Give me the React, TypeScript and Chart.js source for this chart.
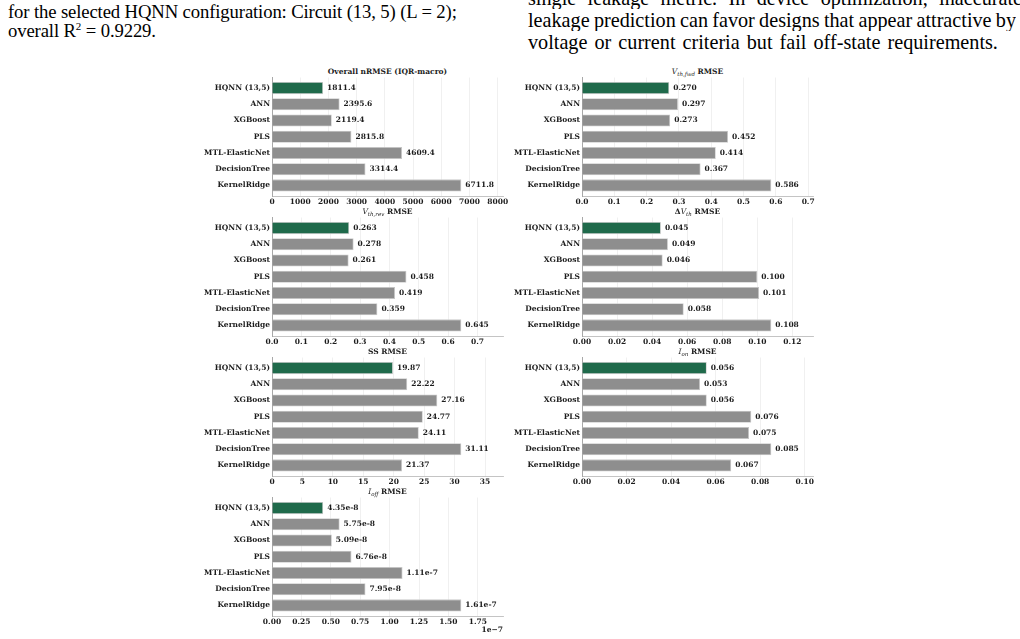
import React, { useEffect, useRef } from 'react';
import { Chart, registerables } from 'chart.js';

Chart.register(...registerables);

// Models compared in every panel (top to bottom)
const models = ['HQNN (13,5)', 'ANN', 'XGBoost', 'PLS', 'MTL-ElasticNet', 'DecisionTree', 'KernelRidge'];

// Per-metric errors, same model order
const overallNrmse = [1811.4, 2395.6, 2119.4, 2815.8, 4609.4, 3314.4, 6711.8];
const vthFwdRmse = [0.27, 0.297, 0.273, 0.452, 0.414, 0.367, 0.586];
const vthRevRmse = [0.263, 0.278, 0.261, 0.458, 0.419, 0.359, 0.645];
const dVthRmse = [0.045, 0.049, 0.046, 0.1, 0.101, 0.058, 0.108];
const ssRmse = [19.87, 22.22, 27.16, 24.77, 24.11, 31.11, 21.37];
const ionRmse = [0.056, 0.053, 0.056, 0.076, 0.075, 0.085, 0.067];
const ioffRmse = [4.35e-8, 5.75e-8, 5.09e-8, 6.76e-8, 1.11e-7, 7.95e-8, 1.61e-7];

// x-axis tick spacing per panel
const overallStep = 1000;
const vthFwdStep = 0.1;
const vthRevStep = 0.1;
const dVthStep = 0.02;
const ssStep = 5;
const ionStep = 0.02;
const ioffStep = 0.25e-7;

// x-axis upper limit relative to the largest bar
const HEADROOM = 1.22;

const GREEN = '#1f6a4b';
const GRAY = '#8e8e8e';
const EDGE = '#c8c8c8';
const INK = '#1c1c1c';
const FONT = '"DejaVu Serif"';
const FS = 7.5;

// plot geometry
const PLOT_W = 231;
const PLOT_H = 119;
const COL_X = [272, 582];
const ROW_Y = [77, 217, 357, 497];
const Y_AXIS_W = 90;
const X_AXIS_H = 14;
const PAD_T = 6;
const PAD_R = 22;
const PAD_B = 4;

type PanelDef = {
  title: React.ReactNode;
  values: number[];
  step: number;
  tick: (v: number) => string;
  label: (v: number) => string;
  col: number;
  row: number;
  offsetText?: string;
};

const fixed = (d: number) => (v: number) => v.toFixed(d);

const Sym = ({ pre, base, sub }: { pre?: string; base: string; sub: string }) => (
  <>
    {pre}
    <span style={{ fontStyle: 'italic', fontWeight: 'normal' }}>{base}</span>
    <span style={{ fontStyle: 'italic', fontWeight: 'normal', fontSize: '5.5px', verticalAlign: '-1.5px' }}>{sub}</span>
  </>
);

const panels: PanelDef[] = [
  { title: <>Overall nRMSE (IQR-macro)</>, values: overallNrmse, step: overallStep, tick: fixed(0), label: fixed(1), col: 0, row: 0 },
  { title: <><Sym base="V" sub="th,fwd" /> RMSE</>, values: vthFwdRmse, step: vthFwdStep, tick: fixed(1), label: fixed(3), col: 1, row: 0 },
  { title: <><Sym base="V" sub="th,rev" /> RMSE</>, values: vthRevRmse, step: vthRevStep, tick: fixed(1), label: fixed(3), col: 0, row: 1 },
  { title: <><Sym pre={'\u0394'} base="V" sub="th" /> RMSE</>, values: dVthRmse, step: dVthStep, tick: fixed(2), label: fixed(3), col: 1, row: 1 },
  { title: <>SS RMSE</>, values: ssRmse, step: ssStep, tick: fixed(0), label: fixed(2), col: 0, row: 2 },
  { title: <><Sym base="I" sub="on" /> RMSE</>, values: ionRmse, step: ionStep, tick: fixed(2), label: fixed(3), col: 1, row: 2 },
  {
    title: <><Sym base="I" sub="off" /> RMSE</>,
    values: ioffRmse,
    step: ioffStep,
    tick: (v) => (v / 1e-7).toFixed(2),
    label: (v) => v.toExponential(2),
    col: 0,
    row: 3,
    offsetText: '1e\u22127',
  },
];

function BarPanel({ p }: { p: PanelDef }) {
  const ref = useRef<HTMLCanvasElement>(null);
  const left = COL_X[p.col];
  const top = ROW_Y[p.row];
  const cw = Y_AXIS_W + PLOT_W + PAD_R;
  const ch = PAD_T + PLOT_H + X_AXIS_H + PAD_B;

  useEffect(() => {
    const xMax = Math.max(...p.values) * HEADROOM;
    const font = { family: FONT, size: FS, weight: 'bold' as const };
    const valueLabels = {
      id: 'valueLabels',
      afterDatasetsDraw(chart: any) {
        const meta = chart.getDatasetMeta(0);
        const ctx = chart.ctx;
        ctx.save();
        ctx.font = `bold ${FS}px ${FONT}`;
        ctx.fillStyle = INK;
        ctx.textBaseline = 'middle';
        ctx.textAlign = 'left';
        meta.data.forEach((bar: any, i: number) => {
          ctx.fillText(p.label(p.values[i]), bar.x + 4, bar.y);
        });
        ctx.restore();
      },
    };
    const chart = new Chart(ref.current as HTMLCanvasElement, {
      type: 'bar',
      data: {
        datasets: [
          {
            data: p.values.map((v, i) => ({ x: v, y: i })) as any,
            backgroundColor: p.values.map((_, i) => (i === 0 ? GREEN : GRAY)),
            borderColor: EDGE,
            borderWidth: 0.8,
            categoryPercentage: 1,
            barPercentage: 0.75,
          },
        ],
      },
      options: {
        indexAxis: 'y',
        animation: false,
        responsive: false,
        maintainAspectRatio: false,
        layout: { padding: { top: PAD_T, right: PAD_R, bottom: PAD_B, left: 0 } },
        plugins: { legend: { display: false }, tooltip: { enabled: false }, title: { display: false } },
        scales: {
          x: {
            type: 'linear',
            min: 0,
            max: xMax,
            offset: false,
            ticks: {
              autoSkip: false,
              maxRotation: 0,
              padding: 2,
              color: INK,
              font,
              callback: (v: any) => p.tick(Number(v)),
            },
            afterBuildTicks: (s: any) => {
              const ticks = [];
              for (let k = 0; k * p.step <= xMax * (1 + 1e-9); k++) {
                ticks.push({ value: k * p.step });
              }
              s.ticks = ticks;
            },
            grid: { color: '#ececec', lineWidth: 0.8, drawTicks: false, offset: false },
            border: { color: '#c4c4c4', width: 1 },
            afterFit: (s: any) => {
              s.height = X_AXIS_H;
            },
          },
          y: {
            type: 'linear',
            reverse: true,
            min: -0.65,
            max: 6.65,
            offset: false,
            ticks: {
              autoSkip: false,
              padding: 2,
              color: INK,
              font,
              callback: (v: any) => models[Number(v)] ?? '',
            },
            afterBuildTicks: (s: any) => {
              s.ticks = models.map((_, i) => ({ value: i }));
            },
            grid: { display: false, drawTicks: false, offset: false },
            border: { color: '#a8a8a8', width: 1 },
            afterFit: (s: any) => {
              s.width = Y_AXIS_W;
            },
          },
        },
      } as any,
      plugins: [valueLabels],
    });
    return () => chart.destroy();
  }, []);

  return (
    <>
      <div
        style={{
          position: 'absolute',
          left,
          top: top - 10,
          width: PLOT_W,
          textAlign: 'center',
          font: `bold ${FS}px ${FONT}`,
          lineHeight: '9px',
          color: INK,
          whiteSpace: 'nowrap',
        }}
      >
        {p.title}
      </div>
      <canvas
        ref={ref}
        width={cw}
        height={ch}
        style={{ position: 'absolute', left: left - Y_AXIS_W, top: top - PAD_T, width: cw, height: ch }}
      />
      {p.offsetText && (
        <div
          style={{
            position: 'absolute',
            left,
            top: top + PLOT_H + 9,
            width: PLOT_W,
            textAlign: 'right',
            font: `bold ${FS}px ${FONT}`,
            lineHeight: '9px',
            color: INK,
          }}
        >
          {p.offsetText}
        </div>
      )}
    </>
  );
}

const bodyFont = '"Liberation Serif", "Times New Roman", serif';
const justified: React.CSSProperties = { textAlign: 'justify', textAlignLast: 'justify', wordSpacing: '-1.5px' };

export default function App() {
  return (
    <div
      style={{
        position: 'fixed',
        left: 0,
        top: 0,
        width: 1020,
        height: 639,
        overflow: 'hidden',
        background: '#fff',
        color: '#000',
      }}
    >
      <div
        style={{
          position: 'absolute',
          left: 8,
          top: 2,
          font: `18.7px ${bodyFont}`,
          lineHeight: '19px',
          letterSpacing: '-0.13px',
          whiteSpace: 'nowrap',
        }}
      >
        <div>for the selected HQNN configuration: Circuit (13, 5) (L = 2);</div>
        <div>
          overall R<sup style={{ fontSize: '11px', verticalAlign: '7px', lineHeight: 0 }}>2</sup> = 0.9229.
        </div>
      </div>
      <div style={{ position: 'absolute', left: 528, top: -13, font: `20.2px ${bodyFont}`, lineHeight: '22px' }}>
        <div style={{ ...justified, width: 494, height: 22, overflow: 'hidden' }}>single leakage metric. In device optimization, inaccurate</div>
        <div style={{ ...justified, width: 488, height: 22, overflow: 'hidden' }}>leakage prediction can favor designs that appear attractive by</div>
        <div style={{ whiteSpace: 'nowrap', wordSpacing: '2px' }}>voltage or current criteria but fail off-state requirements.</div>
      </div>
      {panels.map((p, i) => (
        <BarPanel key={i} p={p} />
      ))}
    </div>
  );
}
